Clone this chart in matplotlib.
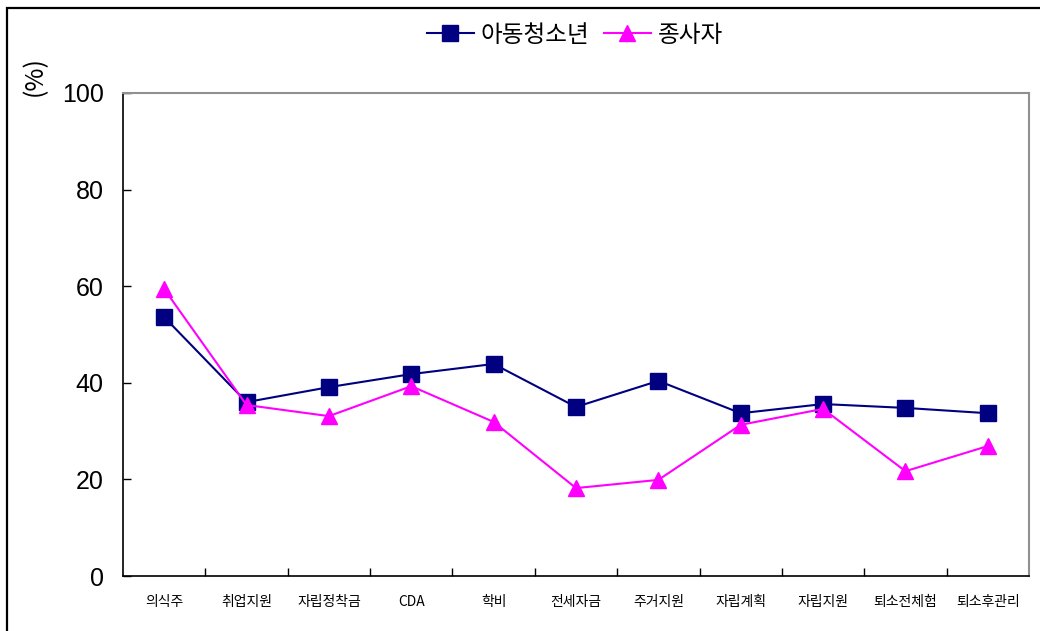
import matplotlib.pyplot as plt
from matplotlib.patches import Rectangle

categories = ['의식주', '취업지원', '자립정착금', 'CDA', '학비', '전세자금',
              '주거지원', '자립계획', '자립지원', '퇴소전체험', '퇴소후관리']
youth = [53.6, 36.0, 39.1, 41.8, 43.9, 35.0, 40.4, 33.7, 35.6, 34.8, 33.7]
staff = [59.4, 35.4, 33.1, 39.3, 31.9, 18.2, 19.9, 31.3, 34.6, 21.7, 26.9]
yticks = [0, 20, 40, 60, 80, 100]

kr = ['Noto Sans CJK KR', 'DejaVu Sans']

fig = plt.figure(figsize=(10.4, 6.31), dpi=100)
ax = fig.add_axes([123 / 1040, 55 / 631, 906 / 1040, 483 / 631])

x = list(range(len(categories)))
ax.plot(x, youth, color='#000080', lw=1.5, marker='s', markersize=12,
        label='아동청소년')
ax.plot(x, staff, color='#FF00FF', lw=1.5, marker='^', markersize=11,
        label='종사자')

ax.set_xlim(-0.5, len(categories) - 0.5)
ax.set_ylim(0, 100)
ax.set_yticks(yticks)
ax.set_yticklabels([str(v) for v in yticks], fontname='Liberation Sans', fontsize=18)
ax.tick_params(axis='y', direction='in', length=6, pad=14, width=1)

ax.set_xticks([i + 0.5 for i in x[:-1]], minor=True)
ax.set_xticks(x)
ax.set_xticklabels(categories, family=kr, fontsize=10)
ax.tick_params(axis='x', which='major', length=0, pad=14)
ax.tick_params(axis='x', which='minor', direction='in', length=6, width=1)

for s in ['top', 'right']:
    ax.spines[s].set_color('#909090')
    ax.spines[s].set_linewidth(1.5)
for s in ['left', 'bottom']:
    ax.spines[s].set_color('black')
    ax.spines[s].set_linewidth(1.2)

fig.text(35 / 1040, 1 - 76 / 631, '(%)', rotation=90, ha='center', va='center',
         fontsize=18, family=kr)

leg = fig.legend(loc='center', bbox_to_anchor=(575 / 1040, 1 - 35 / 631),
                 ncol=2, frameon=False, prop={'family': kr, 'size': 17},
                 handlelength=2.0, handletextpad=0.3, columnspacing=0.6)

# outer border (left and top visible)
fig.patches.append(Rectangle((7 / 1040, -0.1), 1.2, 1 - 8 / 631 + 0.1,
                             transform=fig.transFigure, fill=False,
                             edgecolor='black', lw=1.6, clip_on=False))

fig.savefig('out.png', dpi=100)
